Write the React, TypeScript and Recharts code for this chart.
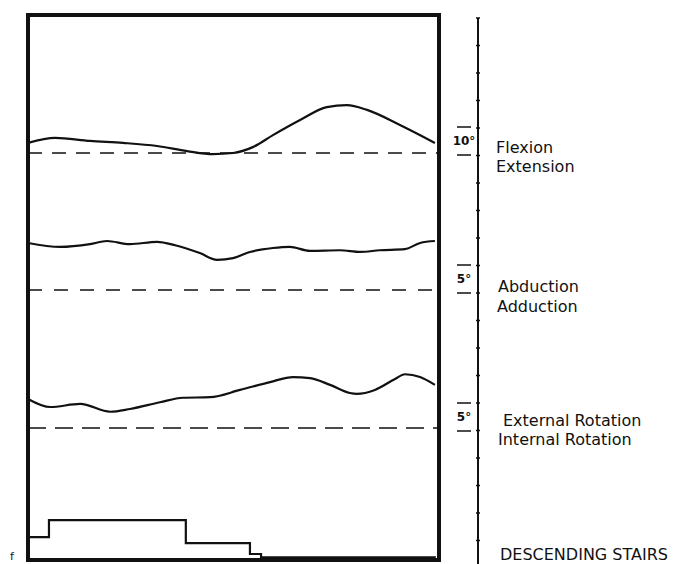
import React from 'react';
import { LineChart, Line, XAxis, YAxis, ReferenceLine, ReferenceArea } from 'recharts';

// % of the cycle on x, degrees on y (one trace per plane)
const flexionX = [0, 6.6, 15.1, 23.1, 31.4, 38.7, 45, 49.9, 54.7, 59.6, 66.2, 72.7, 77.6, 82.5, 90.5, 99];
const flexionDeg = [3.6, 5.4, 4.3, 3.6, 2.5, 0.7, -0.4, 0, 2.1, 6.4, 11.8, 16.4, 17.1, 15.4, 10.0, 3.6];

const abductionX = [0, 7.8, 15.1, 19.2, 24.8, 31.4, 35.8, 41.8, 46, 49.9, 54, 59.6, 63.7, 68.6, 75.9, 80.8, 85.6, 91.7, 95.4, 99];
const abductionDeg = [8.4, 7.7, 8.2, 8.75, 8.2, 8.6, 8.0, 6.6, 5.4, 5.7, 6.8, 7.5, 7.7, 7.0, 7.1, 6.8, 7.1, 7.3, 8.4, 8.75];

const rotationX = [0, 5.4, 12.7, 20, 24.8, 32.1, 37.7, 44.3, 51.6, 58.9, 64.5, 68.6, 73.5, 78.3, 80, 84.4, 89.3, 91.7, 95.4, 99];
const rotationDeg = [5.2, 3.75, 4.3, 2.9, 3.4, 4.6, 5.4, 5.5, 6.8, 8.2, 9.1, 8.9, 7.7, 6.25, 6.1, 6.8, 8.75, 9.6, 9.1, 7.7];

// foot switch / stair trace, arbitrary units
const stairsX = [0, 5.1, 38.4, 54, 56.7, 99];
const stairsLevel = [4.2, 7.3, 3.1, 1.1, 0.5, 0.4];

const labels = [
  { text: 'Flexion', x: 496, y: 153 },
  { text: 'Extension', x: 496, y: 172 },
  { text: 'Abduction', x: 498, y: 292 },
  { text: 'Adduction', x: 497, y: 312 },
  { text: 'External Rotation', x: 503, y: 426 },
  { text: 'Internal Rotation', x: 498, y: 445 },
  { text: 'DESCENDING STAIRS', x: 500, y: 560 },
];

const scaleMarks = [
  { text: '10°', top: 127, bottom: 155 },
  { text: '5°', top: 265, bottom: 293 },
  { text: '5°', top: 403, bottom: 431 },
];

const toPoints = (xs: number[], ys: number[]) => xs.map((x, i) => ({ x, v: ys[i] }));

const flexData = toPoints(flexionX, flexionDeg);
const abdData = toPoints(abductionX, abductionDeg);
const rotData = toPoints(rotationX, rotationDeg);
const stairsData = toPoints(stairsX, stairsLevel);

const ink = '#111';
const font = '"DejaVu Sans", sans-serif';

export default function App() {
  const ticks: number[] = [];
  for (let y = 18; y < 564; y += 27.5) ticks.push(y);

  return (
    <div style={{ position: 'fixed', left: 0, top: 0, width: 690, height: 564, overflow: 'hidden', background: '#fff' }}>
      <LineChart width={690} height={564} margin={{ top: 15, right: 251, bottom: 4, left: 28 }}>
        <XAxis type="number" dataKey="x" domain={[0, 100]} hide allowDataOverflow />
        <YAxis yAxisId="flex" type="number" domain={[-145.36, 49.29]} hide allowDataOverflow />
        <YAxis yAxisId="abd" type="number" domain={[-48.21, 49.11]} hide allowDataOverflow />
        <YAxis yAxisId="rot" type="number" domain={[-23.57, 73.75]} hide allowDataOverflow />
        <YAxis yAxisId="stairs" type="number" domain={[0, 100]} hide allowDataOverflow />

        <ReferenceLine yAxisId="flex" y={0} stroke={ink} strokeWidth={1.3} strokeDasharray="14 10" />
        <ReferenceLine yAxisId="abd" y={0} stroke={ink} strokeWidth={1.3} strokeDasharray="14 12" />
        <ReferenceLine yAxisId="rot" y={0} stroke={ink} strokeWidth={1.3} strokeDasharray="18 9" />

        <Line yAxisId="flex" data={flexData} dataKey="v" type="monotone" stroke={ink} strokeWidth={2.2} dot={false} isAnimationActive={false} />
        <Line yAxisId="abd" data={abdData} dataKey="v" type="monotone" stroke={ink} strokeWidth={2.2} dot={false} isAnimationActive={false} />
        <Line yAxisId="rot" data={rotData} dataKey="v" type="monotone" stroke={ink} strokeWidth={2.2} dot={false} isAnimationActive={false} />
        <Line yAxisId="stairs" data={stairsData} dataKey="v" type="stepAfter" stroke={ink} strokeWidth={2.2} dot={false} isAnimationActive={false} />

        <ReferenceArea yAxisId="stairs" x1={0} x2={100} y1={0} y2={100} fill="none" fillOpacity={0} stroke={ink} strokeWidth={4} />
      </LineChart>

      <svg width={690} height={564} style={{ position: 'absolute', left: 0, top: 0, pointerEvents: 'none' }}>
        <line x1={478} y1={18} x2={478} y2={564} stroke={ink} strokeWidth={2} />
        {ticks.map((y) => (
          <line key={y} x1={476} y1={y} x2={480} y2={y} stroke={ink} strokeWidth={1.5} />
        ))}
        {scaleMarks.map((m, i) => (
          <g key={i}>
            <line x1={457} y1={m.top} x2={471} y2={m.top} stroke={ink} strokeWidth={1.5} />
            <line x1={457} y1={m.bottom} x2={471} y2={m.bottom} stroke={ink} strokeWidth={1.5} />
            <text x={464} y={(m.top + m.bottom) / 2 + 4} textAnchor="middle" fontFamily={font} fontSize={12} fontWeight="bold" fill={ink}>
              {m.text}
            </text>
          </g>
        ))}
        {labels.map((l) => (
          <text key={l.text} x={l.x} y={l.y} fontFamily={font} fontSize={16} fill={ink}>
            {l.text}
          </text>
        ))}
        <text x={10} y={560} fontFamily={font} fontSize={11} fill={ink}>f</text>
      </svg>
    </div>
  );
}
